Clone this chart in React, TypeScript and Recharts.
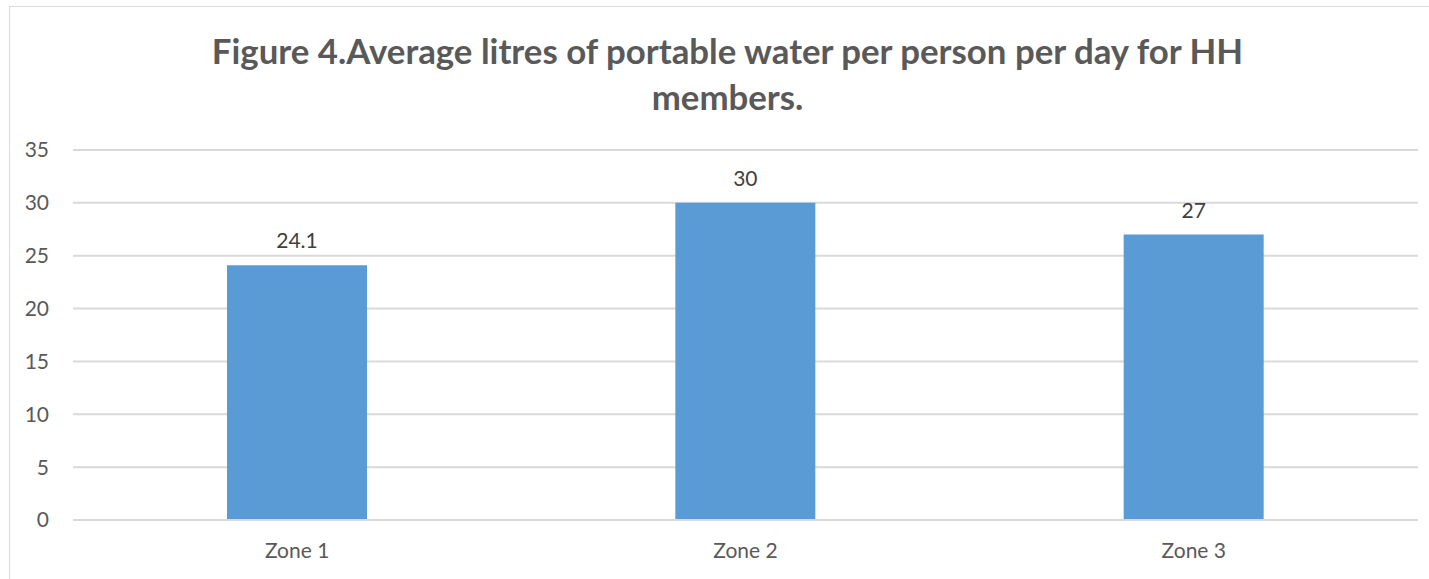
import { BarChart, Bar, XAxis, YAxis, CartesianGrid, LabelList } from 'recharts';

const zones = ['Zone 1', 'Zone 2', 'Zone 3'];
const litres = [24.1, 30, 27];
const yTicks = [0, 5, 10, 15, 20, 25, 30, 35];

const data = zones.map((zone, i) => ({ zone, litres: litres[i] }));

const font = 'Lato, "Open Sans", sans-serif';

export default function App() {
  return (
    <div style={{ position: 'absolute', left: 0, top: 0, width: 1429, height: 579, overflow: 'hidden', background: '#fff', fontFamily: font }}>
      <div style={{ position: 'absolute', left: 9, top: 6, width: 1440, height: 600, border: '1px solid #d9d9d9', boxSizing: 'border-box' }} />
      <div
        style={{
          position: 'absolute',
          left: 0,
          top: 28,
          width: 1455,
          textAlign: 'center',
          fontWeight: 'bold',
          fontSize: 34.8,
          lineHeight: '46px',
          color: '#595959',
        }}
      >
        Figure 4.Average litres of portable water per person per day for HH
        <br />
        members.
      </div>
      <div style={{ position: 'absolute', left: 0, top: 0 }}>
        <BarChart width={1429} height={579} data={data} margin={{ top: 150, right: 11, left: 0, bottom: 29 }}>
          <CartesianGrid vertical={false} stroke="#d9d9d9" strokeWidth={2} />
          <XAxis
            dataKey="zone"
            height={30}
            axisLine={{ stroke: '#d9d9d9', strokeWidth: 2 }}
            tickLine={false}
            tickSize={0}
            tickMargin={23}
            tick={{ fill: '#595959', fontSize: 21, fontFamily: font }}
          />
          <YAxis
            width={73}
            domain={[0, 35]}
            ticks={yTicks}
            axisLine={false}
            tickLine={false}
            tickSize={0}
            tickMargin={24}
            tick={{ fill: '#595959', fontSize: 21, fontFamily: font }}
          />
          <Bar dataKey="litres" fill="#5b9bd5" barSize={140} isAnimationActive={false}>
            <LabelList dataKey="litres" position="top" offset={17} fill="#404040" fontSize={21} fontFamily={font} />
          </Bar>
        </BarChart>
      </div>
    </div>
  );
}
